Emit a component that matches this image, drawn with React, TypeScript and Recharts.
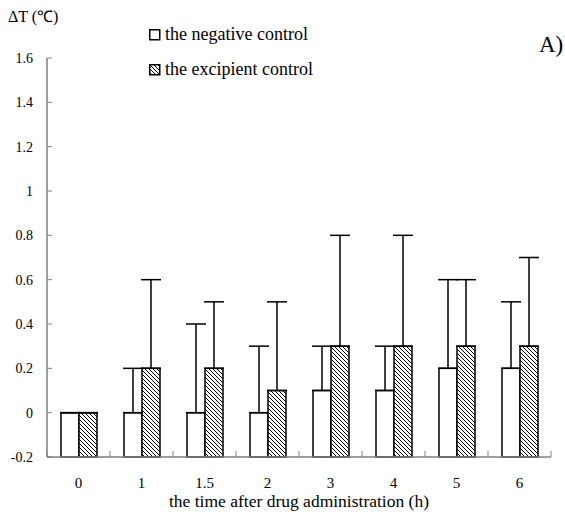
import React from "react";
import { BarChart, Bar, XAxis, YAxis, ErrorBar, Legend } from "recharts";

const times = ["0", "1", "1.5", "2", "3", "4", "5", "6"];
const negative = [0, 0, 0, 0, 0.1, 0.1, 0.2, 0.2];
const negativeErr = [0, 0.2, 0.4, 0.3, 0.2, 0.2, 0.4, 0.3];
const excipient = [0, 0.2, 0.2, 0.1, 0.3, 0.3, 0.3, 0.3];
const excipientErr = [0, 0.4, 0.3, 0.4, 0.5, 0.5, 0.3, 0.4];
const yTicks = [-0.2, 0, 0.2, 0.4, 0.6, 0.8, 1, 1.2, 1.4, 1.6];
const seriesNames = ["the negative control", "the excipient control"];

const data = times.map((t, i) => ({
  time: t,
  neg: negative[i],
  negErr: negativeErr[i],
  exc: excipient[i],
  excErr: excipientErr[i],
}));

const font = "Liberation Serif";
const axisGray = "#808080";
const floor = yTicks[0];
const labelGap = 20;

// label in the middle of each group, small tick marks on the group borders
function TimeTick(props: any) {
  const { x, y, payload, index, visibleTicksCount } = props;
  const half = payload && payload.offset ? payload.offset : 31.5;
  const axisY = y - labelGap;
  return (
    <g>
      <line x1={x - half} x2={x - half} y1={axisY} y2={axisY - 6} stroke={axisGray} />
      {index === visibleTicksCount - 1 && (
        <line x1={x + half} x2={x + half} y1={axisY} y2={axisY - 6} stroke={axisGray} />
      )}
      <text x={x} y={y} dy="0.71em" textAnchor="middle" fontSize={15} fontFamily={font} fill="#000">
        {payload.value}
      </text>
    </g>
  );
}

function LegendBox({ payload }: any) {
  const items = [...(payload || [])].sort(
    (a: any, b: any) => seriesNames.indexOf(a.value) - seriesNames.indexOf(b.value)
  );
  return (
    <div style={{ fontFamily: font, fontSize: 18, color: "#000" }}>
      {items.map((p: any, i: number) => (
        <div key={p.value} style={{ display: "flex", alignItems: "center", height: 35 }}>
          <svg width={12} height={12} style={{ marginRight: 4 }}>
            <rect
              x={0.75}
              y={0.75}
              width={10}
              height={10}
              fill={i === 0 ? "#fff" : "url(#hatch)"}
              stroke="#000"
              strokeWidth={1.5}
            />
          </svg>
          <span>{p.value}</span>
        </div>
      ))}
    </div>
  );
}

export default function App() {
  return (
    <div
      style={{
        position: "fixed",
        left: 0,
        top: 0,
        width: 565,
        height: 517,
        background: "#fff",
        fontFamily: font,
      }}
    >
      <div style={{ position: "absolute", left: 8, top: 5, fontSize: 16 }}>ΔT (℃)</div>
      <div style={{ position: "absolute", left: 539, top: 32, fontSize: 23 }}>A)</div>
      <BarChart
        width={565}
        height={517}
        data={data}
        margin={{ top: 58, right: 14, bottom: 0, left: 0 }}
        barGap={0}
        barSize={18}
      >
        <defs>
          <pattern id="hatch" patternUnits="userSpaceOnUse" width={4} height={4}>
            <rect width={4} height={4} fill="#fff" />
            <path d="M-1,3 L1,5 M-1,-1 L5,5 M3,-1 L5,1" stroke="#000" strokeWidth={1} />
          </pattern>
        </defs>
        <XAxis
          dataKey="time"
          height={60}
          interval={0}
          axisLine={{ stroke: axisGray, strokeWidth: 1.5 }}
          tickLine={false}
          tickSize={0}
          tickMargin={labelGap}
          tick={<TimeTick />}
          label={{
            value: "the time after drug administration (h)",
            position: "insideBottom",
            offset: 10,
            fontSize: 17.5,
            fill: "#000",
            fontFamily: font,
          }}
        />
        <YAxis
          width={47}
          domain={[floor, yTicks[yTicks.length - 1]]}
          ticks={yTicks}
          interval={0}
          axisLine={{ stroke: axisGray, strokeWidth: 1.5 }}
          tickLine={{ stroke: axisGray }}
          tickSize={-5}
          tickMargin={19}
          tickFormatter={(v: number) => String(Math.round(v * 10) / 10)}
          tick={{ fontSize: 14, fill: "#000", fontFamily: font }}
        />
        <Legend
          layout="vertical"
          align="center"
          verticalAlign="middle"
          wrapperStyle={{ top: 17, left: 149, width: 240 }}
          content={<LegendBox />}
        />
        <Bar
          name={seriesNames[0]}
          dataKey={(d: any) => [floor, d.neg]}
          fill="#fff"
          stroke="#000"
          strokeWidth={1.5}
          isAnimationActive={false}
        >
          <ErrorBar dataKey={(d: any) => [0, d.negErr]} width={10} stroke="#000" strokeWidth={1.5} />
        </Bar>
        <Bar
          name={seriesNames[1]}
          dataKey={(d: any) => [floor, d.exc]}
          fill="url(#hatch)"
          stroke="#000"
          strokeWidth={1.5}
          isAnimationActive={false}
        >
          <ErrorBar dataKey={(d: any) => [0, d.excErr]} width={10} stroke="#000" strokeWidth={1.5} />
        </Bar>
      </BarChart>
    </div>
  );
}
